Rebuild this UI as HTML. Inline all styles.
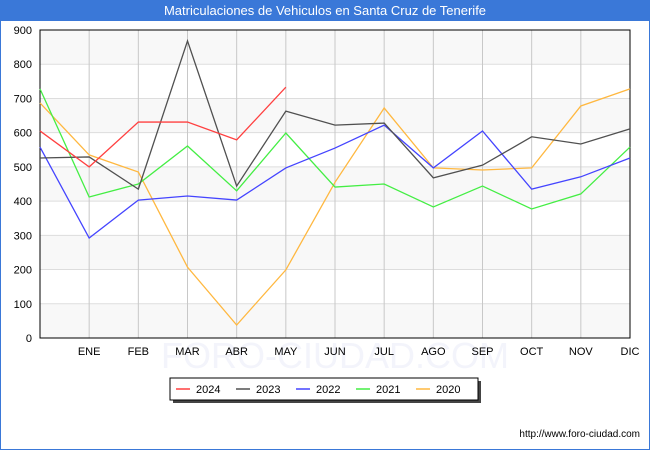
<!DOCTYPE html>
<html><head><meta charset="utf-8"><style>
body{margin:0;width:650px;height:450px;background:#fff;font-family:"Liberation Sans",sans-serif;overflow:hidden}
#wrap{position:absolute;left:0;top:0;width:648px;height:448px;border:1px solid #3a78d8}
#title{position:absolute;left:0;top:0;width:650px;height:21px;background:#3a78d8;color:#fff;font-size:13px;text-align:center;line-height:22px}
</style></head><body>
<div id="wrap"></div>
<div id="title">Matriculaciones de Vehiculos en Santa Cruz de Tenerife</div>
<svg id="chart" width="650" height="450" style="position:absolute;left:0;top:0"></svg>
<script>
const months=["","ENE","FEB","MAR","ABR","MAY","JUN","JUL","AGO","SEP","OCT","NOV","DIC"];
const yTicks=[0,100,200,300,400,500,600,700,800,900];
const seriesNames=["2024","2023","2022","2021","2020"];
const seriesColors=["#ff4040","#505050","#4444ff","#44ee44","#ffb840"];
const s2024=[605,500,631,631,579,733];
const s2023=[526,529,435,868,444,663,622,628,468,505,588,567,611];
const s2022=[558,292,403,415,403,497,555,622,497,605,435,471,526];
const s2021=[728,412,450,561,430,599,441,450,383,444,377,421,558];
const s2020=[687,535,485,207,38,199,455,672,497,491,497,678,728];
const allSeries=[s2024,s2023,s2022,s2021,s2020];
const L=40,R=630,T=30,B=338;
const x=i=>L+i*(R-L)/12;
const y=v=>B-v*(B-T)/900;
const svg=document.getElementById('chart');
const NS="http://www.w3.org/2000/svg";
function mk(t,a){const e=document.createElementNS(NS,t);for(const k in a)e.setAttribute(k,a[k]);svg.appendChild(e);return e;}
const wm=mk('text',{x:335,y:368,'text-anchor':'middle','font-size':36,fill:'#f3f4fb'});wm.textContent="FORO-CIUDAD.COM";


for(let i=0;i<9;i++){if(i%2==0){const r=mk('rect',{x:L,y:y(yTicks[i+1]),width:R-L,height:y(yTicks[i])-y(yTicks[i+1]),fill:'#f8f8f8'});

}}
yTicks.forEach(v=>{const g=mk('line',{x1:L,x2:R,y1:y(v),y2:y(v),stroke:'#dddddd'});


const t=mk('text',{x:L-8,y:y(v)+4,'text-anchor':'end','font-size':11,fill:'#000'});t.textContent=v;

});
months.forEach((m,i)=>{if(i>0){const g=mk('line',{x1:x(i),x2:x(i),y1:T,y2:B,stroke:'#c8c8c8'});


const t=mk('text',{x:x(i),y:355,'text-anchor':'middle','font-size':11,fill:'#000'});t.textContent=m;

}});
const ax=mk('rect',{x:L,y:T,width:R-L,height:B-T,fill:'none',stroke:'#000'});


for(let s=allSeries.length-1;s>=0;s--){const p=mk('polyline',{points:allSeries[s].map((v,i)=>x(i)+','+y(v)).join(' '),fill:'none',stroke:seriesColors[s],'stroke-width':1.3});

}
const sh=mk('rect',{x:173,y:381,width:308,height:22,fill:'#444'});


const lb=mk('rect',{x:170,y:378,width:308,height:22,fill:'#fff',stroke:'#000'});


seriesNames.forEach((n,i)=>{const lx=176+i*60;
const l=mk('line',{x1:lx,x2:lx+14,y1:389,y2:389,stroke:seriesColors[i],'stroke-width':1.5});


const t=mk('text',{x:lx+20,y:393,'font-size':11,fill:'#000'});t.textContent=n;

});
const u=mk('text',{x:640,y:437,'text-anchor':'end','font-size':10,fill:'#000'});u.textContent="http://www.foro-ciudad.com";


</script>
</body></html>
